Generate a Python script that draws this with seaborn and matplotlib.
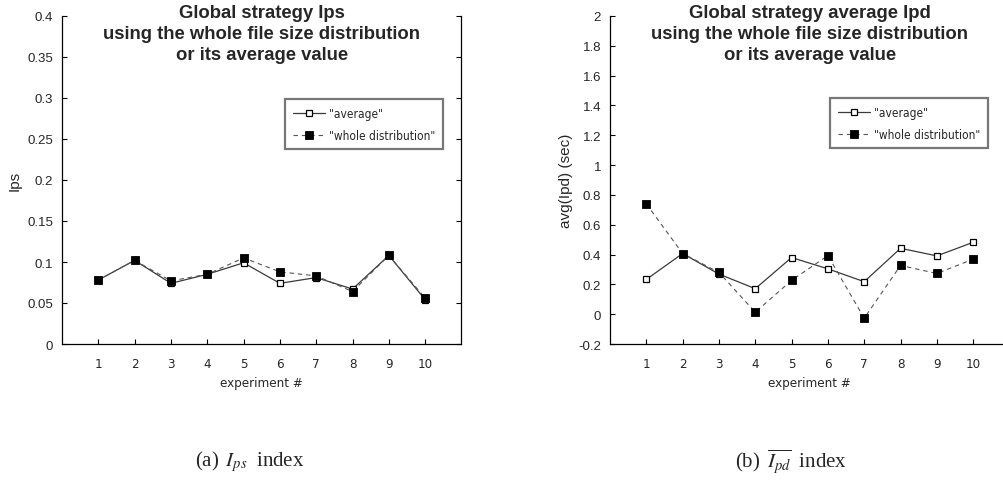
import matplotlib
matplotlib.use("Agg")
import matplotlib.pyplot as plt
from matplotlib import font_manager
import seaborn as sns
import pandas as pd

# ---- data ----
experiments = [1, 2, 3, 4, 5, 6, 7, 8, 9, 10]
ips_average = [0.078, 0.102, 0.074, 0.085, 0.099, 0.074, 0.081, 0.067, 0.108, 0.054]
ips_whole = [0.078, 0.102, 0.077, 0.085, 0.105, 0.088, 0.083, 0.064, 0.108, 0.056]
ipd_average = [0.233, 0.407, 0.269, 0.171, 0.380, 0.304, 0.218, 0.442, 0.391, 0.482]
ipd_whole = [0.740, 0.407, 0.280, 0.013, 0.227, 0.393, -0.027, 0.327, 0.273, 0.369]

series_labels = ['"average"', '"whole distribution"']
titles = [
    "Global strategy Ips\nusing the whole file size distribution\nor its average value",
    "Global strategy average Ipd\nusing the whole file size distribution\nor its average value",
]
ylabels = ["Ips", "avg(Ipd) (sec)"]
xlabel = "experiment #"
captions = [r"(a) $\,I_{ps}\;$ index", r"(b) $\,\overline{I_{pd}}\;$ index"]
ips_yticks = [0, 0.05, 0.1, 0.15, 0.2, 0.25, 0.3, 0.35, 0.4]
ipd_yticks = [-0.2, 0, 0.2, 0.4, 0.6, 0.8, 1, 1.2, 1.4, 1.6, 1.8, 2]

sns.set_theme(style="white")
plt.rcParams["font.family"] = ["Liberation Sans", "DejaVu Sans"]
plt.rcParams["mathtext.fontset"] = "stix"

# look for an installed condensed sans font
names = {f.name for f in font_manager.fontManager.ttflist}
narrow_name = None
for cand in ["Liberation Sans Narrow", "DejaVu Sans Condensed"]:
    if cand in names:
        narrow_name = cand
        break
if narrow_name is not None:
    narrow_kw = {"family": [narrow_name]}
else:
    narrow_kw = {"family": ["DejaVu Sans"], "stretch": "condensed"}

fig = plt.figure(figsize=(10.04, 4.85), dpi=100)
W, H = 1004, 485

panels = [
    (62, ips_average, ips_whole, (0, 0.4), ips_yticks, 0.559, 0.747),
    (610, ipd_average, ipd_whole, (-0.2, 2.0), ipd_yticks, 0.551, 0.750),
]

for i, (x0, avg, whole, ylim, yticks, lx, ly) in enumerate(panels):
    ax = fig.add_axes([x0 / W, 1 - 345 / H, 399.5 / W, 328 / H])
    df = pd.DataFrame({"exp": experiments, "avg": avg, "whole": whole})
    sns.lineplot(data=df, x="exp", y="avg", ax=ax, color="#3a3a3a", linewidth=0.9,
                 marker="s", markersize=4.3, markerfacecolor="white",
                 markeredgecolor="black", markeredgewidth=0.9, label=series_labels[0])
    sns.lineplot(data=df, x="exp", y="whole", ax=ax, color="#555555", linewidth=0.8,
                 linestyle=(0, (4, 3.5)), marker="s", markersize=5.2,
                 markerfacecolor="black", markeredgecolor="black",
                 markeredgewidth=0.6, label=series_labels[1])
    ax.set_xlim(0, 11)
    ax.set_ylim(*ylim)
    ax.set_xticks(experiments)
    ax.set_xticklabels([str(e) for e in experiments], fontsize=9.5, **narrow_kw)
    ax.set_yticks(yticks)
    ax.set_yticklabels(["%g" % v for v in yticks], fontsize=9.5)
    ax.tick_params(axis="x", direction="in", length=3.5, width=0.8, pad=9.5, color="black")
    ax.tick_params(axis="y", direction="in", length=3.5, width=0.8, pad=6.5,
                   right=True, left=True, color="black")
    ax.xaxis.set_ticks_position("bottom")
    for side in ["left", "right", "bottom"]:
        ax.spines[side].set_color("black")
        ax.spines[side].set_linewidth(0.9)
    ax.spines["top"].set_visible(False)
    ax.set_xlabel(xlabel, fontsize=9.5, labelpad=4.5, **narrow_kw)
    ax.set_ylabel(ylabels[i], fontsize=11, labelpad=4)
    leg = ax.legend(loc="upper left", bbox_to_anchor=(lx, ly), frameon=True,
                    fancybox=False, fontsize=8.6, handlelength=2.7,
                    borderpad=0.65, labelspacing=0.75, handletextpad=0.3,
                    borderaxespad=0)
    leg.get_frame().set_edgecolor("#555555")
    leg.get_frame().set_linewidth(1.6)
    for t in leg.get_texts():
        for k, v in narrow_kw.items():
            getattr(t, "set_" + k)(v)
    cx = (x0 + 199.75) / W
    fig.text(cx, 1 - 5 / H, titles[i], ha="center", va="top", fontsize=13.3,
             fontweight="bold", linespacing=1.32)

fig.text(250 / W, 1 - 462 / H, captions[0], ha="center", va="center",
         fontsize=15, family=["Liberation Serif", "DejaVu Serif"])
fig.text(791 / W, 1 - 462 / H, captions[1], ha="center", va="center",
         fontsize=15, family=["Liberation Serif", "DejaVu Serif"])

fig.savefig("out.png", dpi=100, facecolor="white")
